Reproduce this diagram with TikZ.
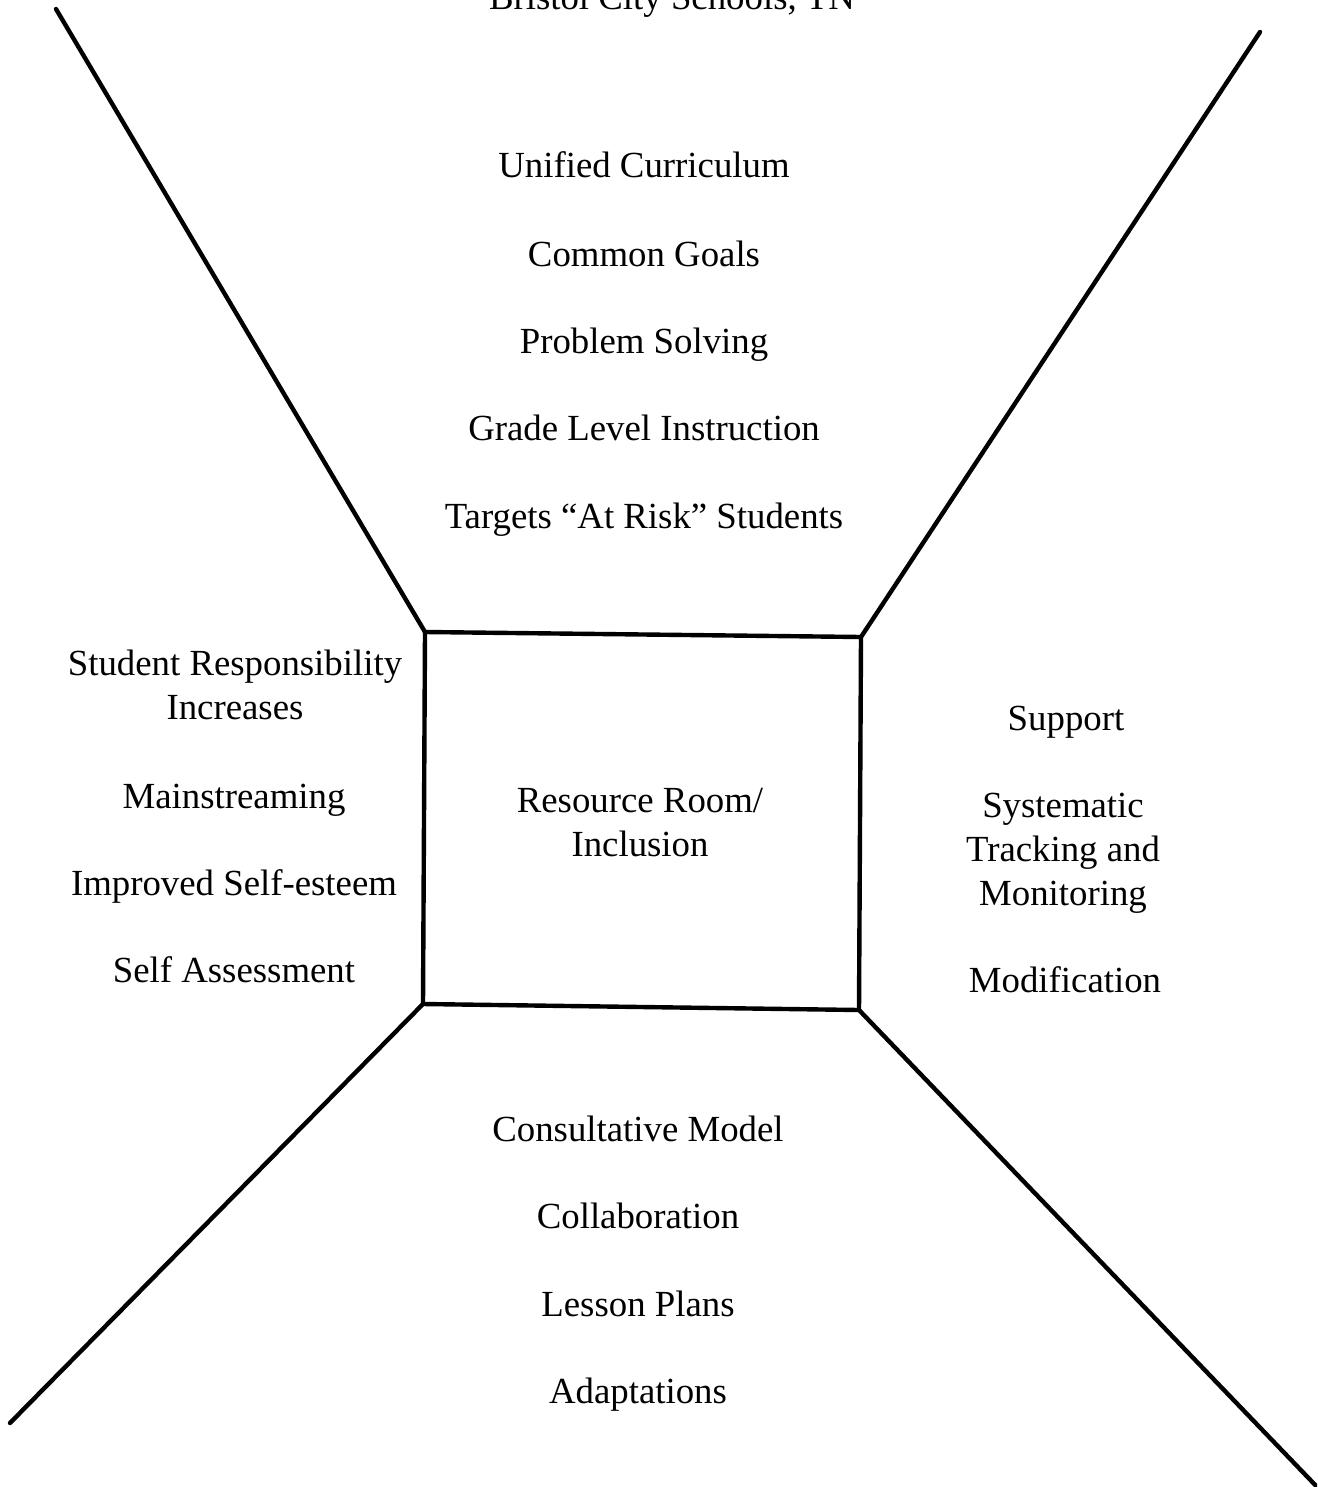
\documentclass[tikz,border=0pt]{standalone}
\usepackage{fontspec}
\setmainfont{Liberation Serif}
\begin{document}
\begin{tikzpicture}[x=0.5pt,y=-0.5pt,
  lbl/.style={font=\fontsize{18.4}{22}\selectfont, align=center, inner sep=0pt, anchor=base},
  edge/.style={line width=2.2pt, line cap=round, line join=miter}]
\useasboundingbox (0,0) rectangle (1317,1487);
\clip (0,0) rectangle (1317,1487);
% box corners
\coordinate (tl) at (425,632);
\coordinate (tr) at (861,637);
\coordinate (bl) at (423,1004);
\coordinate (br) at (859,1010);
% outer ends
\coordinate (otl) at (56,9);
\coordinate (otr) at (1260,32);
\coordinate (obl) at (10,1423);
\coordinate (obr) at (1320,1490);
\draw[edge] (tl) -- (tr) -- (br) -- (bl) -- cycle;
\draw[edge] (tl) -- (otl);
\draw[edge] (tr) -- (otr);
\draw[edge] (bl) -- (obl);
\draw[edge] (br) -- (obr);
% title (cut off at the top edge, as in the source)
\node[lbl] (title) at (672,10) {Bristol City Schools, TN};
% top
\node[lbl] (t1) at (644,178) {Unified Curriculum};
\node[lbl] (t2) at (644,266) {Common Goals};
\node[lbl] (t3) at (644,353) {Problem Solving};
\node[lbl] (t4) at (644,440) {Grade Level Instruction};
\node[lbl] (t5) at (644,528) {Targets “At Risk” Students};
% left (base anchor = last line)
\node[lbl] (l1) at (235,719) {Student Responsibility\\Increases};
\node[lbl] (l2) at (234,808) {Mainstreaming};
\node[lbl] (l3) at (234,895) {Improved Self-esteem};
\node[lbl] (l4) at (234,982) {Self Assessment};
% center
\node[lbl] (c) at (640,856) {Resource Room/\\Inclusion};
% right
\node[lbl] (r1) at (1066,730) {Support};
\node[lbl] (r2) at (1063,905) {Systematic\\Tracking and\\Monitoring};
\node[lbl] (r3) at (1065,992) {Modification};
% bottom
\node[lbl] (b1) at (638,1141) {Consultative Model};
\node[lbl] (b2) at (638,1228) {Collaboration};
\node[lbl] (b3) at (638,1316) {Lesson Plans};
\node[lbl] (b4) at (638,1403) {Adaptations};
\end{tikzpicture}
\end{document}
